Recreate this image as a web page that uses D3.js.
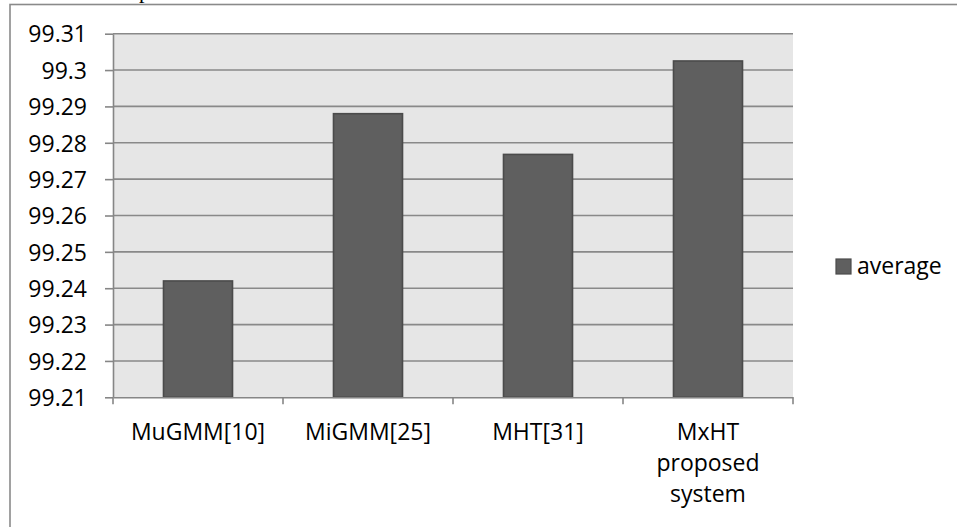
<!DOCTYPE html>
<html>
<head>
<meta charset="utf-8">
<script src="https://cdn.jsdelivr.net/npm/d3@7"></script>
<style>
  html, body { margin: 0; padding: 0; background: #ffffff; }
  svg { display: block; }
</style>
</head>
<body>
<svg id="chart" width="957" height="527"></svg>
<script>
// Average accuracy per method
const categories = ["MuGMM[10]", "MiGMM[25]", "MHT[31]", "MxHT proposed system"];
const categoryLines = [["MuGMM[10]"], ["MiGMM[25]"], ["MHT[31]"], ["MxHT", "proposed", "system"]];
const averageValues = [99.242, 99.288, 99.2768, 99.3025];
const seriesName = "average";
const yTickValues = [99.21, 99.22, 99.23, 99.24, 99.25, 99.26, 99.27, 99.28, 99.29, 99.3, 99.31];
const yTickLabels = ["99.21", "99.22", "99.23", "99.24", "99.25", "99.26", "99.27", "99.28", "99.29", "99.3", "99.31"];

const svg = d3.select("#chart");
const font = "'Open Sans', 'Noto Sans', sans-serif";

const plot = { left: 113, right: 793, top: 33.7, bottom: 397.3 };

// Outer chart frame (its right and bottom edges run off the canvas)
svg.append("rect")
  .attr("x", 10).attr("y", 4.5)
  .attr("width", 960).attr("height", 540)
  .attr("fill", "#ffffff")
  .attr("stroke", "#8a8a8a").attr("stroke-width", 1.6);

// Tail of the caption line above the frame
svg.append("text")
  .attr("x", 139).attr("y", -2.5)
  .attr("font-family", "'Liberation Serif', 'DejaVu Serif', serif")
  .attr("font-size", 22)
  .attr("fill", "#000")
  .text("p");

const x = d3.scaleBand()
  .domain(categories)
  .range([plot.left, plot.right])
  .paddingInner(0.594)
  .paddingOuter(0.297);

const y = d3.scaleLinear()
  .domain([99.21, 99.31])
  .range([plot.bottom, plot.top]);

// Plot area background
svg.append("rect")
  .attr("x", plot.left).attr("y", plot.top)
  .attr("width", plot.right - plot.left)
  .attr("height", plot.bottom - plot.top)
  .attr("fill", "#e6e6e6");

// Horizontal gridlines
svg.append("g")
  .selectAll("line")
  .data(yTickValues.slice(1))
  .join("line")
  .attr("x1", plot.left).attr("x2", plot.right)
  .attr("y1", d => y(d)).attr("y2", d => y(d))
  .attr("stroke", "#898989").attr("stroke-width", 1.6);

// Y axis
const yAxis = d3.axisLeft(y)
  .tickValues(yTickValues)
  .tickFormat((d, i) => yTickLabels[i])
  .tickSizeInner(8)
  .tickSizeOuter(0)
  .tickPadding(18);

const gy = svg.append("g")
  .attr("transform", `translate(${plot.left},0)`)
  .call(yAxis);
gy.select(".domain").attr("stroke", "#868686").attr("stroke-width", 1.6);
gy.selectAll(".tick line").attr("stroke", "#868686").attr("stroke-width", 1.6);
gy.selectAll(".tick text")
  .attr("font-family", font)
  .attr("font-size", 23)
  .attr("fill", "#000")
  .attr("dy", "0.36em");

// Bars
svg.append("g")
  .selectAll("rect")
  .data(averageValues)
  .join("rect")
  .attr("x", (d, i) => x(categories[i]))
  .attr("y", d => y(d))
  .attr("width", x.bandwidth())
  .attr("height", d => plot.bottom - y(d))
  .attr("fill", "#5f5f5f")
  .attr("stroke", "#4b4b4b").attr("stroke-width", 1.6);

// X axis
const xAxis = d3.axisBottom(x)
  .tickSize(0)
  .tickFormat("");
const gx = svg.append("g")
  .attr("transform", `translate(0,${plot.bottom})`)
  .call(xAxis);
gx.select(".domain").attr("stroke", "#868686").attr("stroke-width", 1.6);

// Category boundary tick marks
const step = x.step();
const boundaries = d3.range(categories.length + 1).map(i => plot.left + i * step);
gx.append("g")
  .selectAll("line")
  .data(boundaries)
  .join("line")
  .attr("x1", d => d).attr("x2", d => d)
  .attr("y1", 0).attr("y2", 7)
  .attr("stroke", "#868686").attr("stroke-width", 1.6);

// Category labels (wrapped over several lines)
const labels = svg.append("g")
  .selectAll("text")
  .data(categories)
  .join("text")
  .attr("x", d => x(d) + x.bandwidth() / 2)
  .attr("y", 440)
  .attr("text-anchor", "middle")
  .attr("font-family", font)
  .attr("font-size", 23)
  .attr("fill", "#000");
labels.each(function(d, i) {
  d3.select(this).selectAll("tspan")
    .data(categoryLines[i])
    .join("tspan")
    .attr("x", x(d) + x.bandwidth() / 2)
    .attr("dy", (t, j) => j === 0 ? 0 : 31)
    .text(t => t);
});

// Legend
const legend = svg.append("g");
legend.append("rect")
  .attr("x", 836).attr("y", 259)
  .attr("width", 15).attr("height", 15)
  .attr("fill", "#5f5f5f")
  .attr("stroke", "#4b4b4b").attr("stroke-width", 1.2);
legend.append("text")
  .attr("x", 857).attr("y", 274)
  .attr("font-family", font)
  .attr("font-size", 23)
  .attr("fill", "#000")
  .text(seriesName);
</script>
</body>
</html>
